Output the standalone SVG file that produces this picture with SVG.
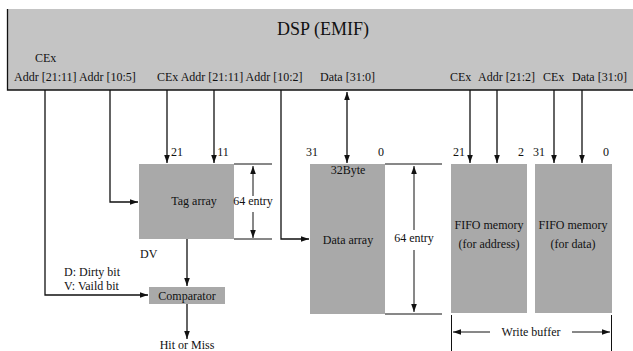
<svg xmlns="http://www.w3.org/2000/svg" width="633" height="351" viewBox="0 0 633 351">
<style>
text{font-family:"Liberation Serif","Times New Roman",serif;fill:#111;}
.lbl{font-size:12px;}
.box{fill:#a9a9a9;stroke:none;}
.ln{fill:none;stroke:#111;stroke-width:1.3;}
.thin{fill:none;stroke:#111;stroke-width:1;}
</style>
<defs>
<marker id="ah" viewBox="0 0 10 10" refX="10" refY="5" markerWidth="8" markerHeight="8" markerUnits="userSpaceOnUse" orient="auto-start-reverse">
<path d="M0,1.5 L10,5 L0,8.5 Z" fill="#111"/>
</marker>
</defs>
<g id="dsp">
<rect x="7" y="9" width="626" height="81" fill="#c4c4c4"/>
<path d="M7.5,9 V90 H633" class="ln"/>
<text x="323" y="35" font-size="18" text-anchor="middle">DSP (EMIF)</text>
<text class="lbl" x="35" y="62">CEx</text>
<text class="lbl" x="14" y="81">Addr [21:11] Addr [10:5]</text>
<text class="lbl" x="157" y="81">CEx Addr [21:11] Addr [10:2]</text>
<text class="lbl" x="320" y="81">Data [31:0]</text>
<text class="lbl" x="450" y="81">CEx</text>
<text class="lbl" x="478" y="81">Addr [21:2]</text>
<text class="lbl" x="543" y="81">CEx</text>
<text class="lbl" x="572" y="81">Data [31:0]</text>
</g>
<g id="tag-array">
<rect class="box" x="139" y="164" width="95" height="75"/>
<text class="lbl" x="194" y="205" text-anchor="middle">Tag array</text>
<text class="lbl" x="177" y="156" text-anchor="middle">21</text>
<text class="lbl" x="223" y="156" text-anchor="middle">11</text>
<text class="lbl" x="253" y="205" text-anchor="middle" font-size="10">64 entry</text>
<text class="lbl" x="140" y="258">DV</text>
</g>
<g id="data-array">
<rect class="box" x="310" y="164" width="75" height="150"/>
<text class="lbl" x="348" y="174" text-anchor="middle" font-size="11">32Byte</text>
<text class="lbl" x="348" y="244" text-anchor="middle">Data array</text>
<text class="lbl" x="312" y="156" text-anchor="middle">31</text>
<text class="lbl" x="381" y="156" text-anchor="middle">0</text>
<text class="lbl" x="414" y="242" text-anchor="middle">64 entry</text>
</g>
<g id="fifo-address">
<rect class="box" x="451" y="164" width="76" height="149"/>
<text class="lbl" x="489" y="229" text-anchor="middle">FIFO memory</text>
<text class="lbl" x="489" y="248" text-anchor="middle">(for address)</text>
<text class="lbl" x="459" y="156" text-anchor="middle">21</text>
<text class="lbl" x="521" y="156" text-anchor="middle">2</text>
</g>
<g id="fifo-data">
<rect class="box" x="535" y="164" width="77" height="149"/>
<text class="lbl" x="573" y="229" text-anchor="middle">FIFO memory</text>
<text class="lbl" x="573" y="248" text-anchor="middle">(for data)</text>
<text class="lbl" x="539" y="156" text-anchor="middle">31</text>
<text class="lbl" x="606" y="156" text-anchor="middle">0</text>
</g>
<g id="comparator">
<rect class="box" x="149" y="287" width="76" height="17"/>
<text class="lbl" x="187" y="299.5" text-anchor="middle" font-size="11">Comparator</text>
<text class="lbl" x="64" y="276">D: Dirty bit</text>
<text class="lbl" x="64" y="290">V: Vaild bit</text>
<text class="lbl" x="187" y="349" text-anchor="middle">Hit or Miss</text>
</g>
<g id="write-buffer">
<path class="thin" d="M451.5,315 V351 M611.5,315 V351"/>
<text class="lbl" x="531" y="336" text-anchor="middle">Write buffer</text>
</g>
<g id="connectors">
<path class="ln" d="M45,90 V295 H148" marker-end="url(#ah)"/>
<path class="ln" d="M110,90 V202 H138" marker-end="url(#ah)"/>
<path class="ln" d="M167,90 V163" marker-end="url(#ah)"/>
<path class="ln" d="M214,90 V163" marker-end="url(#ah)"/>
<path class="ln" d="M281,90 V239 H309" marker-end="url(#ah)"/>
<path class="ln" d="M347,92 V163" marker-start="url(#ah)" marker-end="url(#ah)"/>
<path class="ln" d="M470,90 V163" marker-end="url(#ah)"/>
<path class="ln" d="M497,90 V163" marker-end="url(#ah)"/>
<path class="ln" d="M554,90 V163" marker-end="url(#ah)"/>
<path class="ln" d="M582,90 V163" marker-end="url(#ah)"/>
<path class="ln" d="M187,239 V286" marker-end="url(#ah)"/>
<path class="ln" d="M187,304 V339" marker-end="url(#ah)"/>
<path class="thin" d="M234,164 H272 M234,239 H272"/>
<path class="thin" d="M253,196 V166" marker-end="url(#ah)"/>
<path class="thin" d="M253,212 V238" marker-end="url(#ah)"/>
<path class="thin" d="M385,164 H442 M385,314 H442"/>
<path class="thin" d="M414,230 V166" marker-end="url(#ah)"/>
<path class="thin" d="M414,250 V312" marker-end="url(#ah)"/>
<path class="thin" d="M490,332 H453" marker-end="url(#ah)"/>
<path class="thin" d="M572,332 H610" marker-end="url(#ah)"/>
</g>
</svg>
